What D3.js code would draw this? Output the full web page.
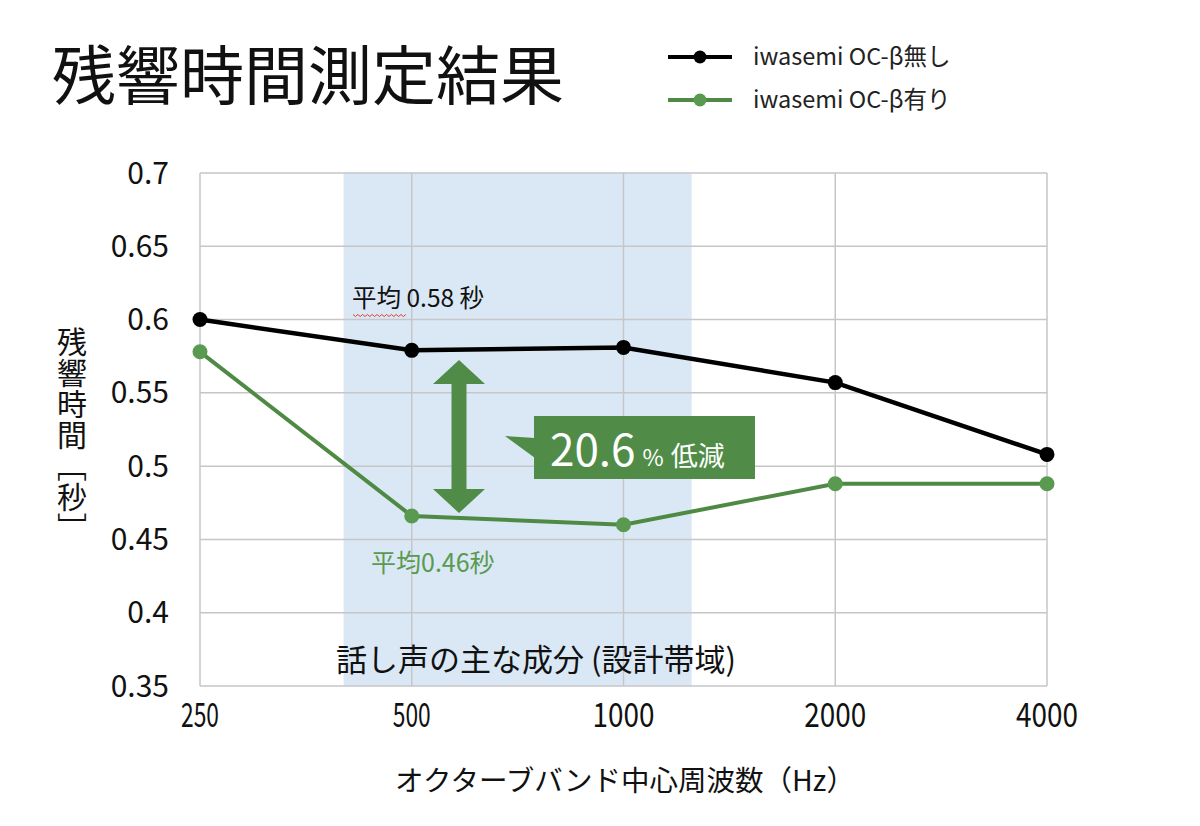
<!DOCTYPE html>
<html>
<head>
<meta charset="utf-8">
<script src="https://cdn.jsdelivr.net/npm/d3@7"></script>
<style>
  body { margin: 0; background: #fff; }
  text { font-family: "Noto Sans CJK JP", "Noto Sans", sans-serif; }
</style>
</head>
<body>
<div id="chart"></div>
<script>
// octave band centre frequencies (Hz)
var freqs = [250, 500, 1000, 2000, 4000];
var freqLabels = ['250', '500', '1000', '2000', '4000'];
// reverberation time (s)
var withoutPanel = [0.600, 0.579, 0.581, 0.557, 0.508];
var withPanel = [0.578, 0.466, 0.460, 0.488, 0.488];
var yTicks = [0.35, 0.4, 0.45, 0.5, 0.55, 0.6, 0.65, 0.7];
var seriesNames = ['iwasemi OC-β無し', 'iwasemi OC-β有り'];
var speechBand = [400, 1250]; // Hz, shaded design band

var black = '#000000';
var green = '#4f8a45';
var greenDot = '#5a9a50';

var width = 1200, height = 826;
var svg = d3.select('#chart').append('svg')
    .attr('width', width)
    .attr('height', height);

var x = d3.scaleLog().base(2)
    .domain([250, 4000])
    .range([200, 1047]);

var y = d3.scaleLinear()
    .domain([0.35, 0.7])
    .range([686, 173]);

// title
svg.append('text')
    .attr('x', 52).attr('y', 99)
    .attr('font-size', 64)
    .attr('fill', '#111')
    .text('残響時間測定結果');

// shaded speech band
svg.append('rect')
    .attr('x', x(speechBand[0]))
    .attr('y', y(0.7))
    .attr('width', x(speechBand[1]) - x(speechBand[0]))
    .attr('height', y(0.35) - y(0.7))
    .attr('fill', '#dae8f5');

// grid
svg.append('g').selectAll('line')
    .data(yTicks)
    .enter().append('line')
    .attr('x1', x(250)).attr('x2', x(4000))
    .attr('y1', function(d) { return y(d); })
    .attr('y2', function(d) { return y(d); })
    .attr('stroke', '#c6c6c8')
    .attr('stroke-width', 1.5);

svg.append('g').selectAll('line')
    .data(freqs)
    .enter().append('line')
    .attr('x1', function(d) { return x(d); })
    .attr('x2', function(d) { return x(d); })
    .attr('y1', y(0.7)).attr('y2', y(0.35))
    .attr('stroke', '#c6c6c8')
    .attr('stroke-width', 1.5);

// y tick labels
svg.append('g').selectAll('text')
    .data(yTicks)
    .enter().append('text')
    .attr('x', 169)
    .attr('y', function(d) { return y(d); })
    .attr('dy', '0.35em')
    .attr('text-anchor', 'end')
    .attr('font-size', 30)
    .attr('fill', '#111')
    .text(function(d) { return String(+d.toFixed(2)); });

// x tick labels (condensed digits)
svg.append('g').selectAll('text')
    .data(freqs)
    .enter().append('text')
    .attr('x', function(d) { return x(d); })
    .attr('y', 727)
    .attr('text-anchor', 'middle')
    .attr('font-size', 34)
    .attr('textLength', function(d, i) { return freqLabels[i].length === 3 ? 38 : 62; })
    .attr('lengthAdjust', 'spacingAndGlyphs')
    .attr('fill', '#111')
    .text(function(d, i) { return freqLabels[i]; });

// axis titles
svg.append('text')
    .attr('x', 625).attr('y', 791)
    .attr('text-anchor', 'middle')
    .attr('font-size', 28.5)
    .attr('fill', '#111')
    .text('オクターブバンド中心周波数（Hz）');

svg.append('text')
    .attr('x', 72).attr('y', 327)
    .attr('writing-mode', 'vertical-rl')
    .attr('font-size', 30)
    .attr('letter-spacing', 1)
    .attr('fill', '#111')
    .text('残響時間［秒］');

// band caption
svg.append('text')
    .attr('x', 536).attr('y', 671)
    .attr('text-anchor', 'middle')
    .attr('font-size', 31)
    .attr('fill', '#111')
    .text('話し声の主な成分 (設計帯域)');

// series
var line = d3.line()
    .x(function(d) { return x(d[0]); })
    .y(function(d) { return y(d[1]); });

function drawSeries(values, lineColor, dotColor, w) {
    var pts = freqs.map(function(f, i) { return [f, values[i]]; });
    svg.append('path')
        .datum(pts)
        .attr('d', line)
        .attr('fill', 'none')
        .attr('stroke', lineColor)
        .attr('stroke-width', w);
    svg.append('g').selectAll('circle')
        .data(pts)
        .enter().append('circle')
        .attr('cx', function(d) { return x(d[0]); })
        .attr('cy', function(d) { return y(d[1]); })
        .attr('r', 7.5)
        .attr('fill', dotColor);
}
drawSeries(withPanel, green, greenDot, 4);
drawSeries(withoutPanel, black, black, 4.5);

// average labels
svg.append('text')
    .attr('x', 352).attr('y', 307)
    .attr('font-size', 24.5)
    .attr('fill', '#111')
    .text('平均 0.58 秒');
// spellcheck squiggle under 平均
var sq = [];
for (var i = 0; i <= 22; i++) sq.push([353 + i * 2.4, 315 + (i % 2 ? 1.5 : -0.5)]);
svg.append('path')
    .attr('d', d3.line()(sq))
    .attr('fill', 'none')
    .attr('stroke', '#e23b3b')
    .attr('stroke-width', 1);

svg.append('text')
    .attr('x', 371).attr('y', 572)
    .attr('font-size', 25)
    .attr('fill', greenDot)
    .text('平均0.46秒');

// double arrow
var ax = 459, aTop = y(0.5725), aBot = y(0.468);
var hw = 26, sw = 7.5, hh = 24;
svg.append('path')
    .attr('d', d3.line()([
        [ax, aTop], [ax + hw, aTop + hh], [ax + sw, aTop + hh],
        [ax + sw, aBot - hh], [ax + hw, aBot - hh], [ax, aBot],
        [ax - hw, aBot - hh], [ax - sw, aBot - hh], [ax - sw, aTop + hh],
        [ax - hw, aTop + hh]
    ]) + 'Z')
    .attr('fill', '#508c47');

// callout
var bx = 534, by = 416, bw = 221, bh = 63;
svg.append('path')
    .attr('d', d3.line()([[505, 436], [bx + 1, 438], [bx + 1, 458]]) + 'Z')
    .attr('fill', '#508c47');
svg.append('rect')
    .attr('x', bx).attr('y', by)
    .attr('width', bw).attr('height', bh)
    .attr('fill', '#508c47');
var ct = svg.append('text')
    .attr('x', 550).attr('y', 466)
    .attr('fill', '#fff');
ct.append('tspan').attr('font-size', 44).text('20.6');
ct.append('tspan').attr('font-size', 23).attr('dx', 7).text('%');
ct.append('tspan').attr('font-size', 27).attr('dx', 7).text('低減');

// legend
var legend = svg.append('g');
[[black, black], [green, greenDot]].forEach(function(c, i) {
    var ly = 57 + i * 43;
    legend.append('line')
        .attr('x1', 668).attr('x2', 732)
        .attr('y1', ly).attr('y2', ly)
        .attr('stroke', c[0])
        .attr('stroke-width', 4);
    legend.append('circle')
        .attr('cx', 700).attr('cy', ly)
        .attr('r', 6.5)
        .attr('fill', c[1]);
    legend.append('text')
        .attr('x', 753).attr('y', ly)
        .attr('dy', '0.35em')
        .attr('font-size', 23.5)
        .attr('fill', '#222')
        .text(seriesNames[i]);
});
</script>
</body>
</html>
